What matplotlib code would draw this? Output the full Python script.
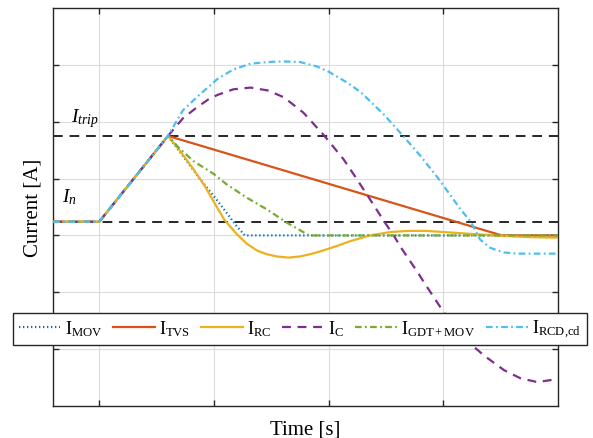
import matplotlib
matplotlib.use('Agg')
import matplotlib.pyplot as plt
import numpy as np

plt.rcParams['font.family'] = ['Liberation Serif', 'DejaVu Serif']
plt.rcParams['mathtext.fontset'] = 'custom'
plt.rcParams['mathtext.rm'] = 'Liberation Serif'
plt.rcParams['mathtext.it'] = 'Liberation Serif:italic'

# levels of the two reference lines
i_trip = 1.75
i_n = 0.24

# I_MOV
x_mov = [-0.4, 0.0, 0.6, 0.70, 0.88, 1.00, 1.11, 1.20, 1.27, 4.0]
y_mov = [0.24, 0.24, 1.75, 1.48, 0.99, 0.69, 0.40, 0.16, 0.0, 0.0]

# I_TVS
x_tvs = [-0.4, 0.0, 0.6, 3.51, 4.0]
y_tvs = [0.24, 0.24, 1.75, 0.0, 0.0]

# I_RC
x_rc = [-0.4, 0.0, 0.6, 0.70, 0.82, 0.92, 1.00, 1.09, 1.20, 1.29, 1.38, 1.46, 1.55,
        1.65, 1.75, 1.86, 1.96, 2.08, 2.19, 2.36, 2.54, 2.70, 2.85, 3.00, 3.15,
        3.29, 3.53, 3.75, 4.0]
y_rc = [0.24, 0.24, 1.75, 1.50, 1.17, 0.87, 0.59, 0.28, 0.02, -0.15, -0.27, -0.33, -0.37,
        -0.39, -0.37, -0.32, -0.26, -0.18, -0.10, 0.0, 0.06, 0.08, 0.08, 0.06, 0.04,
        0.02, -0.01, -0.03, -0.04]

# I_C
x_c = [-0.4, 0.0, 0.6, 0.73, 0.85, 0.95, 1.03, 1.17, 1.32, 1.47, 1.61, 1.78, 1.96, 2.13,
       2.22, 2.35, 2.48, 2.57, 2.64, 2.79, 2.83, 3.00, 3.12, 3.25, 3.36, 3.53, 3.67,
       3.82, 3.95]
y_c = [0.24, 0.24, 1.75, 2.06, 2.25, 2.39, 2.47, 2.57, 2.60, 2.55, 2.43, 2.16, 1.76, 1.34,
       1.07, 0.67, 0.26, -0.01, -0.24, -0.69, -0.82, -1.34, -1.66, -1.93, -2.12, -2.37, -2.51,
       -2.58, -2.54]

# I_GDT+MOV
x_gdt = [-0.4, 0.0, 0.6, 0.70, 0.82, 1.00, 1.11, 1.29, 1.46, 1.64, 1.83, 4.0]
y_gdt = [0.24, 0.24, 1.75, 1.53, 1.31, 1.08, 0.90, 0.66, 0.46, 0.22, 0.0, 0.0]

# I_RCD,cd
x_rcd = [-0.4, 0.0, 0.6, 0.73, 0.85, 1.03, 1.17, 1.32, 1.47, 1.61, 1.75, 1.90, 2.00,
         2.16, 2.28, 2.48, 2.65, 2.80, 2.95, 3.00, 3.15, 3.24, 3.32, 3.41, 3.53,
         3.65, 4.0]
y_rcd = [0.24, 0.24, 1.75, 2.20, 2.43, 2.75, 2.92, 3.02, 3.05, 3.06, 3.05, 2.97, 2.88,
         2.69, 2.52, 2.13, 1.75, 1.40, 1.02, 0.88, 0.46, 0.24, -0.07, -0.22, -0.30,
         -0.32, -0.32]

fig = plt.figure(figsize=(5.93, 4.39), dpi=100)
ax = fig.add_axes([53.3 / 593, 1 - 407 / 439, (558 - 53.3) / 593, (407 - 9) / 439])

lw = 1.6
ax.axhline(i_trip, color='#262626', lw=1.4, dashes=(5, 3.5), zorder=2)
ax.axhline(i_n, color='#262626', lw=1.4, dashes=(5, 3.5), zorder=2)

ax.plot(x_mov, y_mov, color='#0072BD', lw=lw, ls=(0, (0.6, 1.2)), label=r'$\mathrm{I}_{\mathrm{MOV}}$', zorder=3)
ax.plot(x_tvs, y_tvs, color='#D95319', lw=lw, ls='-', label=r'$\mathrm{I}_{\mathrm{TVS}}$', zorder=3)
ax.plot(x_rc, y_rc, color='#EDB120', lw=lw, ls='-', label=r'$\mathrm{I}_{\mathrm{RC}}$', zorder=3)
ax.plot(x_c, y_c, color='#7E2F8E', lw=lw, ls=(0, (4, 3)), label=r'$\mathrm{I}_{\mathrm{C}}$', zorder=3)
ax.plot(x_gdt, y_gdt, color='#77AC30', lw=lw, ls=(0, (3, 1.5, 0.8, 1.5)), label=r'$\mathrm{I}_{\mathrm{GDT+MOV}}$', zorder=3)
ax.plot(x_rcd, y_rcd, color='#4DBEEE', lw=lw, ls=(0, (3, 1.5, 0.8, 1.5)), label=r'$\mathrm{I}_{\mathrm{RCD{,}cd}}$', zorder=3)

ax.text(-0.25, 2.01, r'$I_{trip}$', fontsize=14, ha='left', va='baseline')
ax.text(-0.32, 0.60, r'$I_{n}$', fontsize=14, ha='left', va='baseline')

ax.set_xlim(-0.4, 4.0)
ax.set_ylim(-3, 4)
ax.set_xticks([0, 1, 2, 3])
ax.set_yticks([-2, -1, 0, 1, 2, 3])
ax.set_xticklabels([])
ax.set_yticklabels([])
ax.tick_params(direction='in', length=4, width=1, color='#262626',
               top=True, right=True)
ax.grid(True, color='#DCDCDC', lw=0.8)
ax.set_axisbelow(True)
for s in ax.spines.values():
    s.set_color('#262626')
    s.set_linewidth(1.0)

ax.set_xlabel('Time [s]', fontsize=15, labelpad=6)
ax.set_ylabel('Current [A]', fontsize=15, labelpad=4)

leg = fig.legend(loc='center', bbox_to_anchor=(300 / 593, 1 - 330 / 439), ncol=6,
                 fontsize=13, handlelength=2.3, handletextpad=0.25, columnspacing=0.6,
                 borderpad=0.3, borderaxespad=0, fancybox=False, framealpha=1,
                 edgecolor='#262626')
leg.get_frame().set_linewidth(1.0)
leg.set_zorder(10)

plt.savefig('out.png', dpi=100, facecolor='white')
plt.close()
